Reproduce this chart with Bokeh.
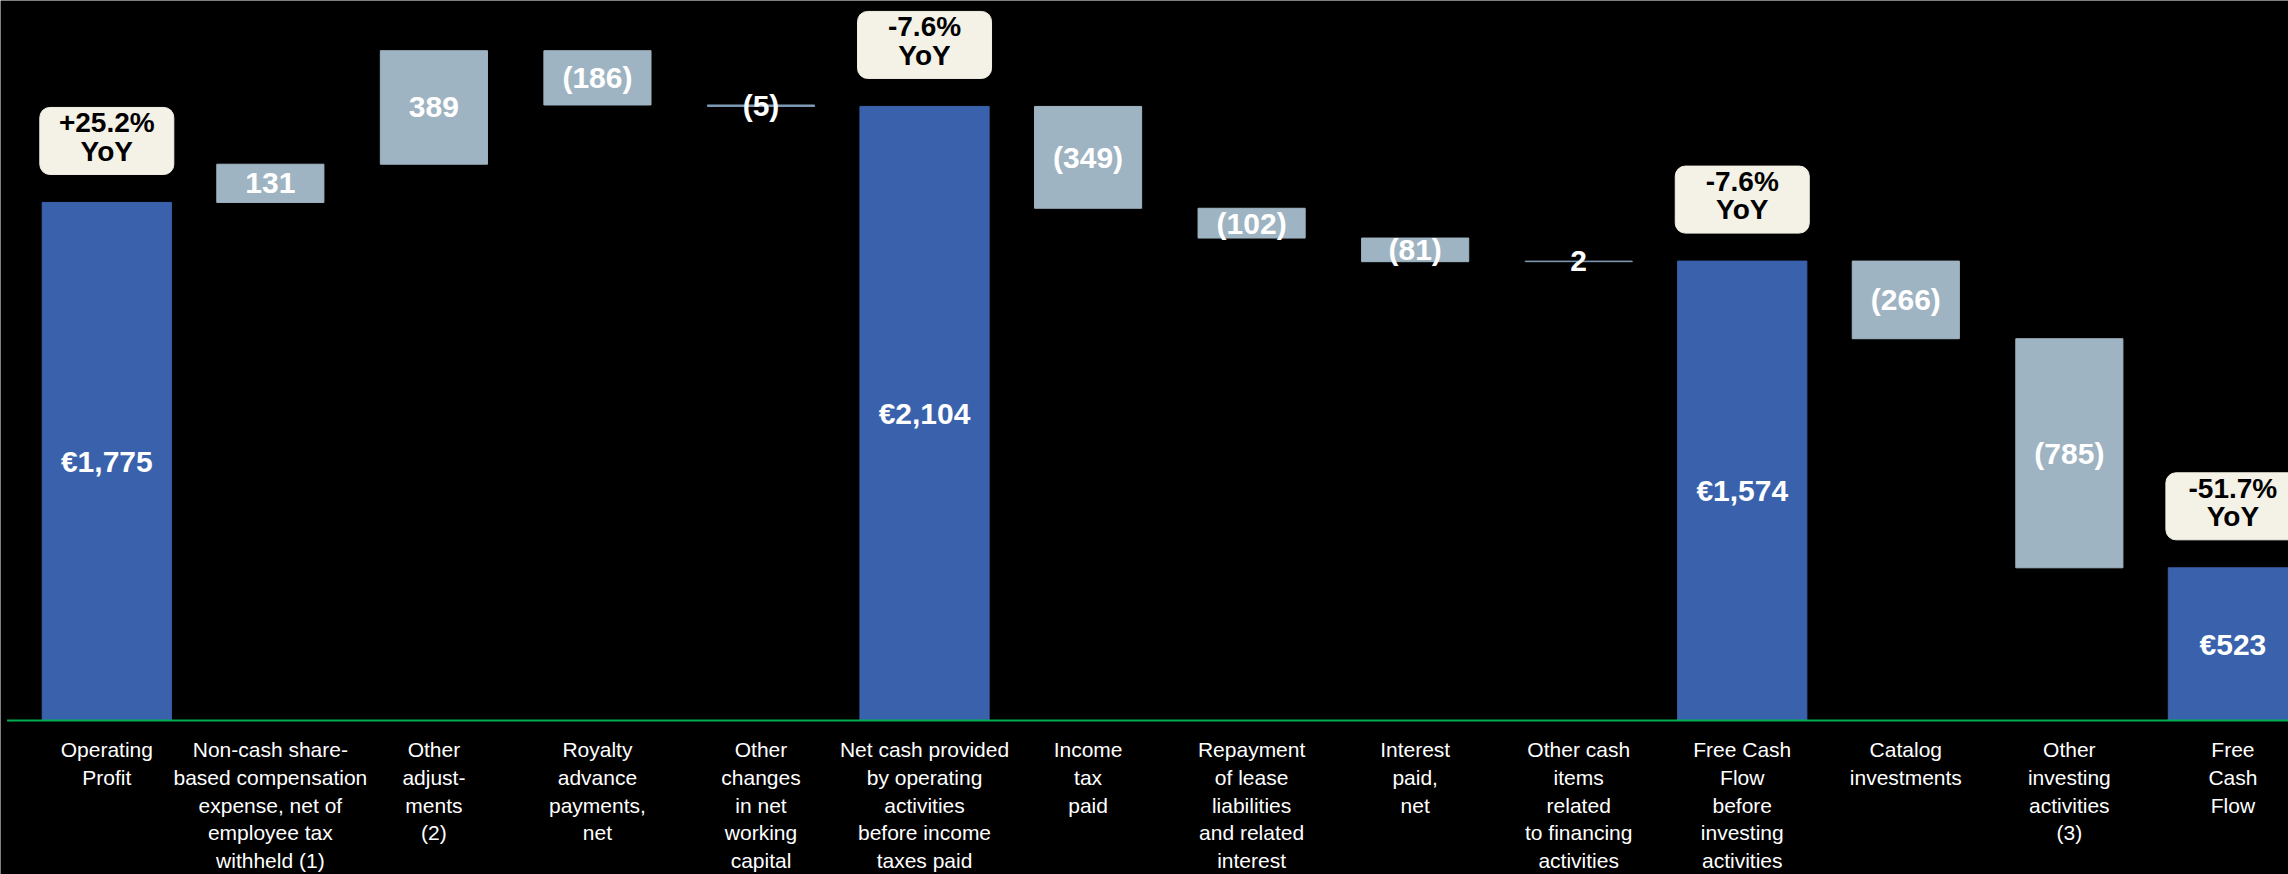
from bokeh.plotting import figure
from bokeh.models import Range1d, ColumnDataSource, Rect
from bokeh.core.properties import value
from bokeh.embed import file_html
from bokeh.resources import INLINE

# ---------------- data ----------------
categories = [
    "Operating\nProfit",
    "Non-cash share-\nbased compensation\nexpense, net of\nemployee tax\nwithheld (1)",
    "Other\nadjust-\nments\n(2)",
    "Royalty\nadvance\npayments,\nnet",
    "Other\nchanges\nin net\nworking\ncapital",
    "Net cash provided\nby operating\nactivities\nbefore income\ntaxes paid",
    "Income\ntax\npaid",
    "Repayment\nof lease\nliabilities\nand related\ninterest",
    "Interest\npaid,\nnet",
    "Other cash\nitems\nrelated\nto financing\nactivities",
    "Free Cash\nFlow\nbefore\ninvesting\nactivities",
    "Catalog\ninvestments",
    "Other\ninvesting\nactivities\n(3)",
    "Free\nCash\nFlow",
]
values = [1775, 131, 389, -186, -5, 2104, -349, -102, -81, 2, 1574, -266, -785, 523]
is_total = [True, False, False, False, False, True, False, False, False, False, True, False, False, True]
yoy_index = [0, 5, 10, 13]
yoy_labels = ["+25.2%\nYoY", "-7.6%\nYoY", "-7.6%\nYoY", "-51.7%\nYoY"]

# ---------------- styling ----------------
W, H = 2288, 874
BLUE = "#3A62AC"
LIGHT = "#9FB4C2"
THIN = "#7F9BB5"
CREAM = "#F4F1E6"
GREEN = "#00B050"
FONT = "Liberation Sans"

Y0, Y1 = -528, 2467
X0, X1 = -0.65, 13.34
px_per_unit = H / (Y1 - Y0)

# ---------------- waterfall geometry ----------------
xs, bottoms, tops, colors, widths, texts, mids = [], [], [], [], [], [], []
running = 0
for i, v in enumerate(values):
    xs.append(i)
    if is_total[i]:
        b, t = 0, v
        running = v
        colors.append(BLUE)
        widths.append(0.79)
        texts.append("€{:,}".format(v))
    else:
        b, t = running, running + v
        running += v
        colors.append(THIN if abs(v) < 10 else LIGHT)
        widths.append(0.655)
        texts.append(str(v) if v > 0 else "({})".format(-v))
    bottoms.append(min(b, t))
    tops.append(max(b, t))
    mids.append((b + t) / 2)

src = ColumnDataSource(dict(x=xs, bottom=bottoms, top=tops, color=colors,
                            width=widths, text=texts, mid=mids,
                            cat=categories, zero=[0] * len(xs)))

p = figure(width=W, height=H, x_range=Range1d(X0, X1), y_range=Range1d(Y0, Y1),
           output_backend="svg", toolbar_location=None, min_border=0,
           background_fill_color="black", border_fill_color="black",
           outline_line_color=None)
p.xaxis.visible = False
p.yaxis.visible = False
p.xgrid.visible = False
p.ygrid.visible = False

p.vbar(x="x", bottom="bottom", top="top", width="width", source=src,
       fill_color="color", line_color="color", line_width=1)

# baseline
p.segment(x0=[X0 + 0.04], x1=[X1], y0=[0], y1=[0], line_color=GREEN, line_width=2)

# bar values
p.text(x="x", y="mid", text="text", source=src, text_color="white",
       text_font=value(FONT), text_font_style="bold", text_font_size="30px",
       text_align="center", text_baseline="middle")

# category labels
p.text(x="x", y="zero", text="cat", source=src, text_color="white",
       text_font=value(FONT), text_font_size="21px", text_align="center",
       text_baseline="top", y_offset=18, text_line_height=1.2)

# YoY boxes
box_x = [xs[i] for i in yoy_index]
box_y = [tops[i] + (28 + 33.5) / px_per_unit for i in yoy_index]
bsrc = ColumnDataSource(dict(x=box_x, y=box_y, text=yoy_labels))
rect_kwargs = dict(x="x", y="y", width=134, height=67, width_units="screen",
                   height_units="screen", source=bsrc, fill_color=CREAM,
                   line_color=CREAM)
if "border_radius" in Rect.properties():
    rect_kwargs["border_radius"] = 10
p.rect(**rect_kwargs)
p.text(x="x", y="y", text="text", source=bsrc, text_color="black",
       text_font=value(FONT), text_font_style="bold", text_font_size="28px",
       text_align="center", text_baseline="middle", text_line_height=0.92,
       y_offset=-4)

open("out.html", "w").write(file_html(p, INLINE))
